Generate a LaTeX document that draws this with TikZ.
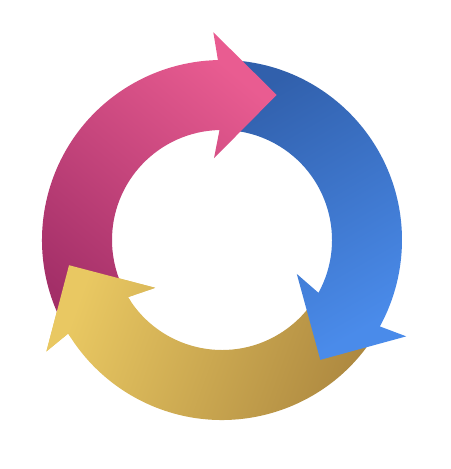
\documentclass[tikz,border=0pt]{standalone}
\usepackage{tikz}
\usetikzlibrary{calc}
\definecolor{pinklight}{HTML}{E95C91}
\definecolor{pinkdark}{HTML}{A32F68}
\definecolor{bluedark}{HTML}{3160AC}
\definecolor{bluelight}{HTML}{4A8BEA}
\definecolor{yellowlight}{HTML}{E9C862}
\definecolor{yellowdark}{HTML}{AC873F}
\tikzstyle{pinkarrow} = [top color=pinklight, bottom color=pinkdark, shading angle=-40]
\tikzstyle{bluearrow} = [top color=bluedark, bottom color=bluelight, shading angle=30]
\tikzstyle{yellowarrow} = [top color=yellowlight, bottom color=yellowdark, shading angle=70]
% #1 = angle of this head's base, #2 = angle of the previous head's base
\newcommand{\cyclearrow}[2]{({#2-2}:3.6) arc[start angle={#2-2}, end angle={#1-2}, radius=3.6cm]
  -- ($(#1:2.9)+({#1-3}:1.26)$) -- ($(#1:2.9)+({#1-93}:1.26)$) -- ($(#1:2.9)+({#1+177}:1.26)$)
  -- ({#1-2}:2.2) arc[start angle={#1-2}, end angle={#2-2}, radius=2.2cm] -- cycle}
\newcommand{\cyclehead}[1]{($(#1:2.9)+({#1-3}:1.26)$) -- ($(#1:2.9)+({#1-93}:1.26)$) -- ($(#1:2.9)+({#1+177}:1.26)$) -- cycle}

\begin{document}
\begin{tikzpicture}
    \fill[white] (-4.44,-4.58) rectangle (4.56,4.8);
    \useasboundingbox (-4.44,-4.58) rectangle (4.56,4.8);
    %arrows, yellow first so the blue head lies on its tail
    \shade[yellowarrow] \cyclearrow{-146.7}{-26.7};
    \shade[bluearrow] \cyclearrow{-26.7}{93.3};
    \shade[pinkarrow] \cyclearrow{93.3}{213.3};
    %yellow head again on top of the pink tail
    \begin{scope}
        \clip \cyclehead{-146.7};
        \shade[yellowarrow] \cyclearrow{-146.7}{-26.7};
    \end{scope}
\end{tikzpicture}
\end{document}
